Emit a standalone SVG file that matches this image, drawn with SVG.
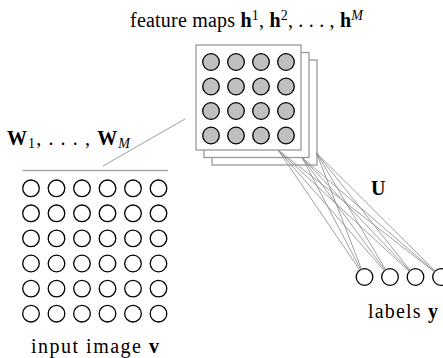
<svg xmlns="http://www.w3.org/2000/svg" width="443" height="358" viewBox="0 0 443 358">
<style>
text{font-family:"Liberation Serif","DejaVu Serif",serif;font-size:20px;fill:#000}
.b{font-weight:bold}
.it{font-style:italic}
.sq{fill:#fff;stroke:#999;stroke-width:1.3}
.fm{fill:#c0c0c0;stroke:#000;stroke-width:1.3}
.u{fill:#fff;stroke:#000;stroke-width:1.3}
.con line{stroke:#888;stroke-width:0.8}
</style>
<rect width="443" height="358" fill="#fff"/>
<g id="feature-maps">
<rect class="sq" x="212" y="60" width="105" height="105"/>
<rect class="sq" x="204" y="52.5" width="105" height="105"/>
<rect class="sq" x="196" y="45" width="105" height="105"/>
<g id="fm-units">
<circle class="fm" cx="211" cy="62" r="8.3"/><circle class="fm" cx="236" cy="62" r="8.3"/><circle class="fm" cx="261" cy="62" r="8.3"/><circle class="fm" cx="286" cy="62" r="8.3"/>
<circle class="fm" cx="211" cy="86.5" r="8.3"/><circle class="fm" cx="236" cy="86.5" r="8.3"/><circle class="fm" cx="261" cy="86.5" r="8.3"/><circle class="fm" cx="286" cy="86.5" r="8.3"/>
<circle class="fm" cx="211" cy="111" r="8.3"/><circle class="fm" cx="236" cy="111" r="8.3"/><circle class="fm" cx="261" cy="111" r="8.3"/><circle class="fm" cx="286" cy="111" r="8.3"/>
<circle class="fm" cx="211" cy="135.5" r="8.3"/><circle class="fm" cx="236" cy="135.5" r="8.3"/><circle class="fm" cx="261" cy="135.5" r="8.3"/><circle class="fm" cx="286" cy="135.5" r="8.3"/>
</g>
</g>
<g id="input-image">
<g id="in-r1"><circle class="u" cx="31" cy="188.3" r="8.3"/><circle class="u" cx="56.5" cy="188.3" r="8.3"/><circle class="u" cx="82" cy="188.3" r="8.3"/><circle class="u" cx="107.5" cy="188.3" r="8.3"/><circle class="u" cx="133" cy="188.3" r="8.3"/><circle class="u" cx="158.5" cy="188.3" r="8.3"/></g>
<g id="in-r2"><circle class="u" cx="31" cy="213.3" r="8.3"/><circle class="u" cx="56.5" cy="213.3" r="8.3"/><circle class="u" cx="82" cy="213.3" r="8.3"/><circle class="u" cx="107.5" cy="213.3" r="8.3"/><circle class="u" cx="133" cy="213.3" r="8.3"/><circle class="u" cx="158.5" cy="213.3" r="8.3"/></g>
<g id="in-r3"><circle class="u" cx="31" cy="238.4" r="8.3"/><circle class="u" cx="56.5" cy="238.4" r="8.3"/><circle class="u" cx="82" cy="238.4" r="8.3"/><circle class="u" cx="107.5" cy="238.4" r="8.3"/><circle class="u" cx="133" cy="238.4" r="8.3"/><circle class="u" cx="158.5" cy="238.4" r="8.3"/></g>
<g id="in-r4"><circle class="u" cx="31" cy="263.5" r="8.3"/><circle class="u" cx="56.5" cy="263.5" r="8.3"/><circle class="u" cx="82" cy="263.5" r="8.3"/><circle class="u" cx="107.5" cy="263.5" r="8.3"/><circle class="u" cx="133" cy="263.5" r="8.3"/><circle class="u" cx="158.5" cy="263.5" r="8.3"/></g>
<g id="in-r5"><circle class="u" cx="31" cy="288.6" r="8.3"/><circle class="u" cx="56.5" cy="288.6" r="8.3"/><circle class="u" cx="82" cy="288.6" r="8.3"/><circle class="u" cx="107.5" cy="288.6" r="8.3"/><circle class="u" cx="133" cy="288.6" r="8.3"/><circle class="u" cx="158.5" cy="288.6" r="8.3"/></g>
<g id="in-r6"><circle class="u" cx="31" cy="313.7" r="8.3"/><circle class="u" cx="56.5" cy="313.7" r="8.3"/><circle class="u" cx="82" cy="313.7" r="8.3"/><circle class="u" cx="107.5" cy="313.7" r="8.3"/><circle class="u" cx="133" cy="313.7" r="8.3"/><circle class="u" cx="158.5" cy="313.7" r="8.3"/></g>
</g>
<g id="labels">
<circle class="u" cx="364.5" cy="277" r="8.3"/><circle class="u" cx="390" cy="277" r="8.3"/><circle class="u" cx="415.5" cy="277" r="8.3"/><circle class="u" cx="441" cy="277" r="8.3"/>
</g>
<g id="connectors" class="con">
<line x1="22.5" y1="170.5" x2="168" y2="170.5" style="stroke:#aaa;stroke-width:1.5"/>
<line x1="103" y1="166" x2="185" y2="119"/>
<line x1="278" y1="150" x2="359.8" y2="270.1"/>
<line x1="278" y1="150" x2="384.5" y2="270.8"/>
<line x1="278" y1="150" x2="409.4" y2="271.4"/>
<line x1="278" y1="150" x2="434.5" y2="271.9"/>
<line x1="302" y1="157.5" x2="360.7" y2="269.6"/>
<line x1="302" y1="157.5" x2="385.1" y2="270.3"/>
<line x1="302" y1="157.5" x2="409.8" y2="271"/>
<line x1="302" y1="157.5" x2="434.7" y2="271.6"/>
<line x1="316.5" y1="153" x2="361.5" y2="269.3"/>
<line x1="316.5" y1="153" x2="385.8" y2="269.9"/>
<line x1="316.5" y1="153" x2="410.3" y2="270.5"/>
<line x1="316.5" y1="153" x2="435.1" y2="271.1"/>
</g>
<text x="130" y="27" textLength="233" lengthAdjust="spacing">feature maps <tspan class="b">h</tspan><tspan dy="-7" font-size="14">1</tspan><tspan dy="7">, </tspan><tspan class="b">h</tspan><tspan dy="-7" font-size="14">2</tspan><tspan dy="7">, . . . , </tspan><tspan class="b">h</tspan><tspan dy="-7" font-size="14" class="it">M</tspan></text>
<text x="7" y="145" textLength="123" lengthAdjust="spacing"><tspan class="b">W</tspan><tspan dy="3" font-size="14">1</tspan><tspan dy="-3">, . . . , </tspan><tspan class="b">W</tspan><tspan dy="3" font-size="14" class="it">M</tspan></text>
<text x="371" y="195" class="b" font-size="21">U</text>
<text x="368" y="318" textLength="70" lengthAdjust="spacing">labels <tspan class="b">y</tspan></text>
<text x="31" y="353" textLength="128" lengthAdjust="spacing">input image <tspan class="b">v</tspan></text>
</svg>
